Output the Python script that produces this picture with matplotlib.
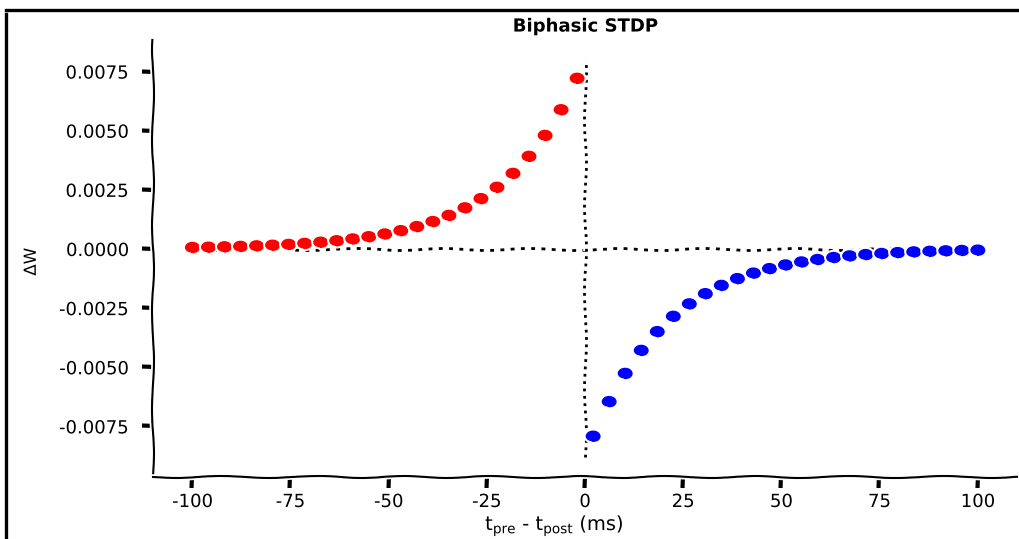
import numpy as np
import matplotlib
matplotlib.use("Agg")
import matplotlib.pyplot as plt
from matplotlib.path import Path
from matplotlib.lines import Line2D

# time differences t_pre - t_post (ms)
t_pre = [-100.0, -95.92, -91.84, -87.76, -83.67, -79.59, -75.51, -71.43, -67.35,
         -63.27, -59.18, -55.10, -51.02, -46.94, -42.86, -38.78, -34.69, -30.61,
         -26.53, -22.45, -18.37, -14.29, -10.20, -6.12, -2.04]
t_post = [2.04, 6.12, 10.20, 14.29, 18.37, 22.45, 26.53, 30.61, 34.69, 38.78,
          42.86, 46.94, 51.02, 55.10, 59.18, 63.27, 67.35, 71.43, 75.51, 79.59,
          83.67, 87.76, 91.84, 95.92, 100.0]

# weight change
dw_pre = [0.000054, 0.000066, 0.000081, 0.000099, 0.000122, 0.000149, 0.000183,
          0.000225, 0.000276, 0.000338, 0.000414, 0.000508, 0.000623, 0.000764,
          0.000937, 0.001149, 0.001409, 0.001728, 0.002119, 0.002598, 0.003186,
          0.003907, 0.004791, 0.005876, 0.007205]
dw_post = [-0.007926, -0.006463, -0.005270, -0.004298, -0.003505, -0.002858,
           -0.002331, -0.001901, -0.001550, -0.001264, -0.001031, -0.000841,
           -0.000686, -0.000559, -0.000456, -0.000372, -0.000303, -0.000247,
           -0.000202, -0.000164, -0.000134, -0.000109, -0.000089, -0.000073,
           -0.000059]

A_plus = 0.008
A_minus = 0.0088
t_span = [-100, 100]
yticks = [-0.0075, -0.005, -0.0025, 0.0, 0.0025, 0.005, 0.0075]
xticks = [-100, -75, -50, -25, 0, 25, 50, 75, 100]

plt.xkcd()
plt.rcParams['font.family'] = ['DejaVu Sans']
plt.rcParams['axes.unicode_minus'] = False

# slightly stretched dot, like in the reference
circ = Path.unit_circle()
ellipse = Path(circ.vertices * np.array([1.38, 1.0]), circ.codes)

fig = plt.figure(figsize=(10.2, 5.39), dpi=100)
ax = fig.add_axes([0.15, 0.115, 0.847, 0.811])

ax.plot(t_span, [0, 0], 'k', linestyle=(0, (1.4, 2.3)), lw=2)
ax.plot([0, 0], [-A_minus, A_plus], 'k', linestyle=':', lw=2)
ax.plot(t_pre, dw_pre, color='red', linestyle='none', marker=ellipse, markersize=9.5)
ax.plot(t_post, dw_post, color='blue', linestyle='none', marker=ellipse, markersize=9.5)

ax.set_xticks(xticks)
ax.set_yticks(yticks)
ax.set_yticklabels(['%.4f' % v for v in yticks])
ax.tick_params(axis='x', labelsize=13)
ax.tick_params(axis='y', labelsize=13, pad=10)
ax.spines['top'].set_visible(False)
ax.spines['right'].set_visible(False)

ax.set_xlabel(r't$_{\mathrm{pre}}$ - t$_{\mathrm{post}}$ (ms)', fontsize=14)
ax.xaxis.set_label_coords(0.465, -0.082)
ax.set_ylabel(r'$\Delta$W', fontsize=12)
ax.yaxis.set_label_coords(-0.131, 0.494)
ax.set_title('Biphasic STDP', fontweight='bold', fontsize=13, pad=6)

# frame edge from the screenshot
for xs, ys in [([0.006, 0.006], [0.0, 0.982]), ([0.006, 0.998], [0.982, 0.982])]:
    ln = Line2D(xs, ys, transform=fig.transFigure, color='black', lw=2.4)
    ln.set_sketch_params(None)
    fig.add_artist(ln)

fig.savefig('out.png', dpi=100)
